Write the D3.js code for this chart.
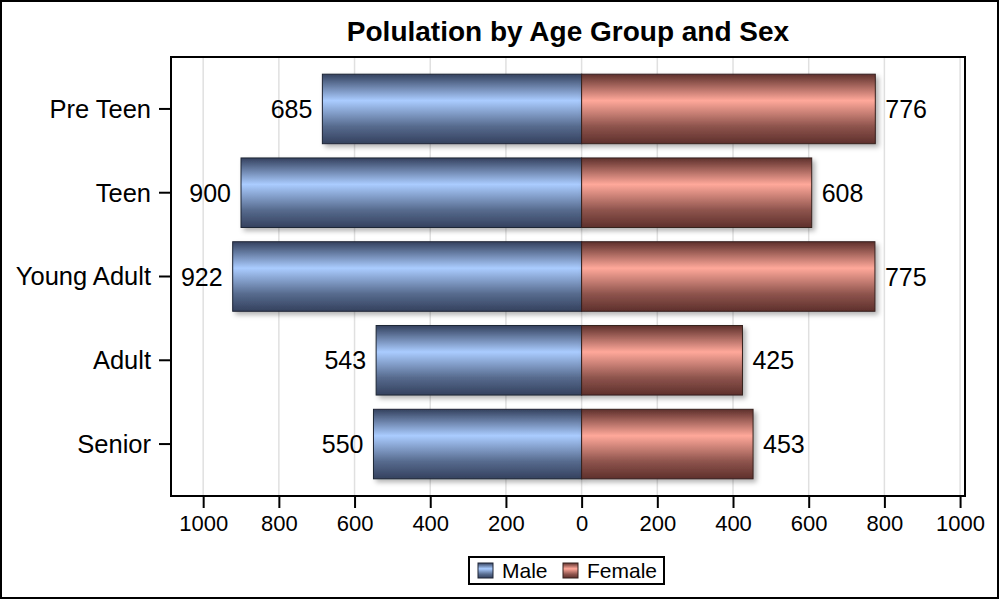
<!DOCTYPE html>
<html>
<head>
<meta charset="utf-8">
<script src="https://cdn.jsdelivr.net/npm/d3@7"></script>
<style>
  body { margin: 0; background: #fff; }
  svg text { font-family: Arial, "Liberation Sans", sans-serif; }
</style>
</head>
<body>
<svg id="chart" width="1000" height="600"></svg>
<script>
// chart data
var categories = ['Pre Teen', 'Teen', 'Young Adult', 'Adult', 'Senior'];
var maleValues = [685, 900, 922, 543, 550];
var femaleValues = [776, 608, 775, 425, 453];
var tickValues = [-1000, -800, -600, -400, -200, 0, 200, 400, 600, 800, 1000];
var seriesNames = ['Male', 'Female'];

var svg = d3.select('#chart'),
    frame = { left: 171, top: 57, right: 965, bottom: 496 };

var x = d3.scaleLinear()
  .domain([-1085, 1013])
  .range([frame.left, frame.right]);

var y = d3.scaleBand()
  .domain(categories)
  .range([frame.top, frame.bottom])
  .paddingInner(0.17)
  .paddingOuter(0.205);

var defs = svg.append('defs');

function addGradient(id, light, dark) {
  var g = defs.append('linearGradient')
    .attr('id', id)
    .attr('x1', 0).attr('y1', 0).attr('x2', 0).attr('y2', 1);
  g.append('stop').attr('offset', '0%').attr('stop-color', dark);
  g.append('stop').attr('offset', '38%').attr('stop-color', light);
  g.append('stop').attr('offset', '75%').attr('stop-color', d3.interpolateRgb(light, dark)(0.7));
  g.append('stop').attr('offset', '100%').attr('stop-color', dark);
}
addGradient('gMale', '#aaccff', '#34415e');
addGradient('gFemale', '#ffa89a', '#5e302c');

var shadow = defs.append('filter')
  .attr('id', 'shadow')
  .attr('x', '-10%').attr('y', '-20%')
  .attr('width', '130%').attr('height', '150%');
shadow.append('feDropShadow')
  .attr('dx', 3).attr('dy', 3)
  .attr('stdDeviation', 2.5)
  .attr('flood-color', '#000')
  .attr('flood-opacity', 0.3);

// outer border
svg.append('rect')
  .attr('x', 1).attr('y', 1)
  .attr('width', 997).attr('height', 597)
  .attr('fill', '#fff')
  .attr('stroke', '#000')
  .attr('stroke-width', 2);

// title
svg.append('text')
  .attr('x', (frame.left + frame.right) / 2)
  .attr('y', 41)
  .attr('text-anchor', 'middle')
  .attr('font-size', 28)
  .attr('font-weight', 'bold')
  .text('Polulation by Age Group and Sex');

// grid lines
svg.append('g')
  .selectAll('line')
  .data(tickValues)
  .join('line')
  .attr('x1', function(d) { return x(d); })
  .attr('x2', function(d) { return x(d); })
  .attr('y1', frame.top)
  .attr('y2', frame.bottom)
  .attr('stroke', '#e0e0e0')
  .attr('stroke-width', 1.5);

// bars
var bars = svg.append('g');
var rows = categories.map(function(c, i) {
  return { cat: c, male: maleValues[i], female: femaleValues[i] };
});

bars.selectAll('rect.male')
  .data(rows)
  .join('rect')
  .attr('class', 'male')
  .attr('x', function(d) { return x(-d.male); })
  .attr('y', function(d) { return y(d.cat); })
  .attr('width', function(d) { return x(0) - x(-d.male); })
  .attr('height', y.bandwidth())
  .attr('fill', 'url(#gMale)')
  .attr('stroke', '#1e2535')
  .attr('stroke-width', 1)
  .attr('filter', 'url(#shadow)');

bars.selectAll('rect.female')
  .data(rows)
  .join('rect')
  .attr('class', 'female')
  .attr('x', x(0))
  .attr('y', function(d) { return y(d.cat); })
  .attr('width', function(d) { return x(d.female) - x(0); })
  .attr('height', y.bandwidth())
  .attr('fill', 'url(#gFemale)')
  .attr('stroke', '#35201d')
  .attr('stroke-width', 1)
  .attr('filter', 'url(#shadow)');

// value labels
var labels = svg.append('g').attr('font-size', 25);
labels.selectAll('text.ml')
  .data(rows)
  .join('text')
  .attr('class', 'ml')
  .attr('x', function(d) { return x(-d.male) - 10; })
  .attr('y', function(d) { return y(d.cat) + y.bandwidth() / 2 + 9; })
  .attr('text-anchor', 'end')
  .text(function(d) { return d.male; });
labels.selectAll('text.fl')
  .data(rows)
  .join('text')
  .attr('class', 'fl')
  .attr('x', function(d) { return x(d.female) + 10; })
  .attr('y', function(d) { return y(d.cat) + y.bandwidth() / 2 + 9; })
  .attr('text-anchor', 'start')
  .text(function(d) { return d.female; });

// frame
svg.append('rect')
  .attr('x', frame.left).attr('y', frame.top)
  .attr('width', frame.right - frame.left)
  .attr('height', frame.bottom - frame.top)
  .attr('fill', 'none')
  .attr('stroke', '#000')
  .attr('stroke-width', 2);

// axes
var xAxis = svg.append('g')
  .attr('transform', 'translate(0,' + frame.bottom + ')')
  .call(d3.axisBottom(x)
    .tickValues(tickValues)
    .tickSize(12)
    .tickPadding(7)
    .tickFormat(function(d) { return Math.abs(d); }));
xAxis.select('.domain').remove();
xAxis.selectAll('line').attr('stroke-width', 2);
xAxis.selectAll('text').attr('font-size', 22).attr('font-family', 'Arial, sans-serif');

var yAxis = svg.append('g')
  .attr('transform', 'translate(' + frame.left + ',0)')
  .call(d3.axisLeft(y).tickSize(12).tickPadding(8));
yAxis.select('.domain').remove();
yAxis.selectAll('line').attr('stroke-width', 2);
yAxis.selectAll('text').attr('font-size', 25.5).attr('font-family', 'Arial, sans-serif').attr('dy', '0.35em');

// legend
var legend = svg.append('g');
var legendX = 469, legendY = 557;
legend.append('rect')
  .attr('x', legendX).attr('y', legendY)
  .attr('width', 195).attr('height', 27)
  .attr('fill', '#fff')
  .attr('stroke', '#000')
  .attr('stroke-width', 2);
var legendFills = ['url(#gMale)', 'url(#gFemale)'];
var legendStrokes = ['#1e2535', '#35201d'];
var legendOffsets = [9, 94];
seriesNames.forEach(function(name, i) {
  legend.append('rect')
    .attr('x', legendX + legendOffsets[i]).attr('y', legendY + 6)
    .attr('width', 15).attr('height', 15)
    .attr('fill', legendFills[i])
    .attr('stroke', legendStrokes[i]);
  legend.append('text')
    .attr('x', legendX + legendOffsets[i] + 24)
    .attr('y', legendY + 21)
    .attr('font-size', 21)
    .text(name);
});
</script>
</body>
</html>
